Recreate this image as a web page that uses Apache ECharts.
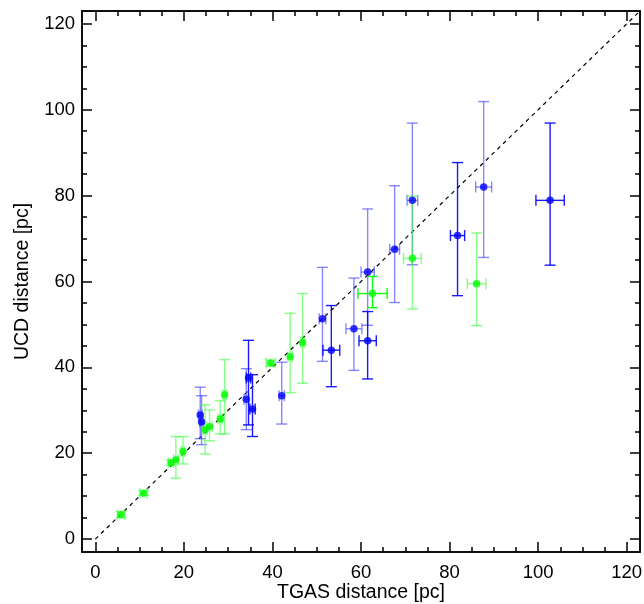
<!DOCTYPE html>
<html>
<head>
<meta charset="utf-8">
<script src="https://cdn.jsdelivr.net/npm/echarts@6/dist/echarts.min.js"></script>
<style>html,body{margin:0;padding:0;background:#fff}#c{width:644px;height:604px}</style>
</head>
<body>
<div id="c"></div>
<script>
// each row: [TGAS distance, UCD distance, UCD lower bound, UCD upper bound, TGAS error]
var blueLight = [
  [23.7, 28.9, 23.4, 35.4, 0.4],
  [24.0, 27.3, 22.0, 33.4, 0.4],
  [34.1, 32.6, 25.5, 39.7, 0.5],
  [42.1, 33.4, 26.8, 41.2, 0.6],
  [51.3, 51.3, 41.4, 63.3, 0.75],
  [58.4, 49.0, 39.3, 60.8, 1.8],
  [61.5, 62.2, 49.8, 76.9, 1.5],
  [67.6, 67.5, 55.1, 82.3, 1.1],
  [71.6, 78.9, 63.9, 96.9, 1.2],
  [87.7, 82.0, 65.6, 101.9, 1.8]
];
var blueDark = [
  [34.6, 37.5, 26.6, 46.3, 0.5],
  [35.5, 30.3, 23.9, 38.3, 0.6],
  [53.3, 44.0, 35.5, 54.4, 1.9],
  [61.5, 46.2, 37.3, 53.0, 1.95],
  [81.8, 70.7, 56.7, 87.7, 1.6],
  [102.7, 78.9, 63.8, 96.9, 3.2]
];
var greenLight = [
  [5.8, 5.7, 5.0, 6.4, 0.8],
  [10.9, 10.7, 10.2, 11.3, 0.8],
  [17.1, 17.8, 17.2, 18.4, 0.6],
  [18.2, 18.5, 14.2, 23.9, 0.5],
  [19.8, 20.4, 17.5, 23.9, 0.4],
  [24.8, 25.5, 19.8, 31.3, 0.4],
  [25.8, 26.2, 22.9, 30.1, 0.6],
  [28.2, 28.0, 24.5, 32.2, 0.5],
  [29.2, 33.6, 24.5, 41.8, 0.4],
  [39.6, 41.0, 40.3, 41.7, 1.0],
  [44.0, 42.5, 34.1, 52.6, 0.5],
  [46.8, 45.8, 36.3, 57.2, 0.4],
  [71.6, 65.4, 53.6, 79.9, 2.0],
  [86.1, 59.5, 49.7, 71.3, 2.1]
];
var greenDark = [
  [62.6, 57.2, 53.9, 61.2, 3.3]
];
var diagonal = [[0, 0], [123, 123]];
var majorTicks = [0, 20, 40, 60, 80, 100, 120];
var minorTicks = [];
for (var t = 0; t <= 120; t += 5) { if (t % 20 !== 0) minorTicks.push(t); }

var AX = {min: -3, max: 123};
var FONT = '"Liberation Sans", Arial, Helvetica, sans-serif';

function errRender(color) {
  return function (params, api) {
    var x = api.value(0), y = api.value(1), lo = api.value(2), hi = api.value(3), xe = api.value(4);
    var pT = api.coord([x, hi]), pB = api.coord([x, lo]);
    var pL = api.coord([x - xe, y]), pR = api.coord([x + xe, y]);
    var c = 5.5;
    var st = {stroke: color, lineWidth: 1.4, fill: null};
    function L(x1, y1, x2, y2) { return {type: 'line', shape: {x1: x1, y1: y1, x2: x2, y2: y2}, style: st}; }
    return {type: 'group', children: [
      L(pT[0], pT[1], pB[0], pB[1]),
      L(pT[0] - c, pT[1], pT[0] + c, pT[1]),
      L(pB[0] - c, pB[1], pB[0] + c, pB[1]),
      L(pL[0], pL[1], pR[0], pR[1]),
      L(pL[0], pL[1] - c, pL[0], pL[1] + c),
      L(pR[0], pR[1] - c, pR[0], pR[1] + c)
    ]};
  };
}
function errSeries(data, color, z) {
  return {type: 'custom', renderItem: errRender(color), data: data, encode: {x: 0, y: 1}, z: z, silent: true, clip: false};
}
function ptSeries(data, color) {
  return {type: 'scatter', data: data.map(function (r) { return [r[0], r[1]]; }), symbol: 'circle', symbolSize: 7.5,
    itemStyle: {color: color}, z: 10, silent: true};
}
function xAx(pos, labels, ticks, len) {
  return Object.assign({type: 'value', position: pos, gridIndex: 0}, AX, {
    axisLine: {show: true, onZero: false, lineStyle: {color: '#000', width: 1.5}},
    axisTick: {show: true, inside: true, length: len, customValues: ticks, lineStyle: {color: '#000', width: 1.5}},
    axisLabel: labels ? {show: true, customValues: majorTicks, fontSize: 18.5, color: '#000', fontFamily: FONT, margin: 11} : {show: false},
    splitLine: {show: false}
  });
}
var xAxes = [
  Object.assign(xAx('bottom', true, majorTicks, 10), {name: 'TGAS distance [pc]', nameLocation: 'middle', nameGap: 31,
    nameMoveOverlap: false, nameTextStyle: {fontSize: 19.5, color: '#000', fontFamily: FONT}}),
  xAx('bottom', false, minorTicks, 5),
  xAx('top', false, majorTicks, 10),
  xAx('top', false, minorTicks, 5)
];
var yAxes = [
  Object.assign(xAx('left', true, majorTicks, 10), {name: 'UCD distance [pc]', nameLocation: 'middle', nameGap: 49,
    nameMoveOverlap: false, nameTextStyle: {fontSize: 19.5, color: '#000', fontFamily: FONT}}),
  xAx('left', false, minorTicks, 5),
  xAx('right', false, majorTicks, 10),
  xAx('right', false, minorTicks, 5)
];
yAxes[0].axisLabel.margin = 7;

var chart = echarts.init(document.getElementById('c'), null, {renderer: 'canvas'});
chart.setOption({
  animation: false,
  backgroundColor: '#fff',
  grid: {left: 82, right: 4, top: 11, bottom: 52, containLabel: false, outerBoundsMode: 'none'},
  xAxis: xAxes,
  yAxis: yAxes,
  series: [
    {type: 'line', data: diagonal, showSymbol: false, lineStyle: {color: '#000', width: 1.2, type: [4, 4]}, z: 1, silent: true},
    errSeries(blueLight, 'rgba(70,70,255,0.65)', 3),
    errSeries(blueDark, 'rgba(0,0,255,0.9)', 3),
    errSeries(greenLight, 'rgba(70,255,70,0.65)', 4),
    errSeries(greenDark, 'rgba(0,255,0,0.95)', 4),
    ptSeries(blueLight.concat(blueDark), '#0000ff'),
    ptSeries(greenLight.concat(greenDark), '#00ff00')
  ]
});
</script>
</body>
</html>
